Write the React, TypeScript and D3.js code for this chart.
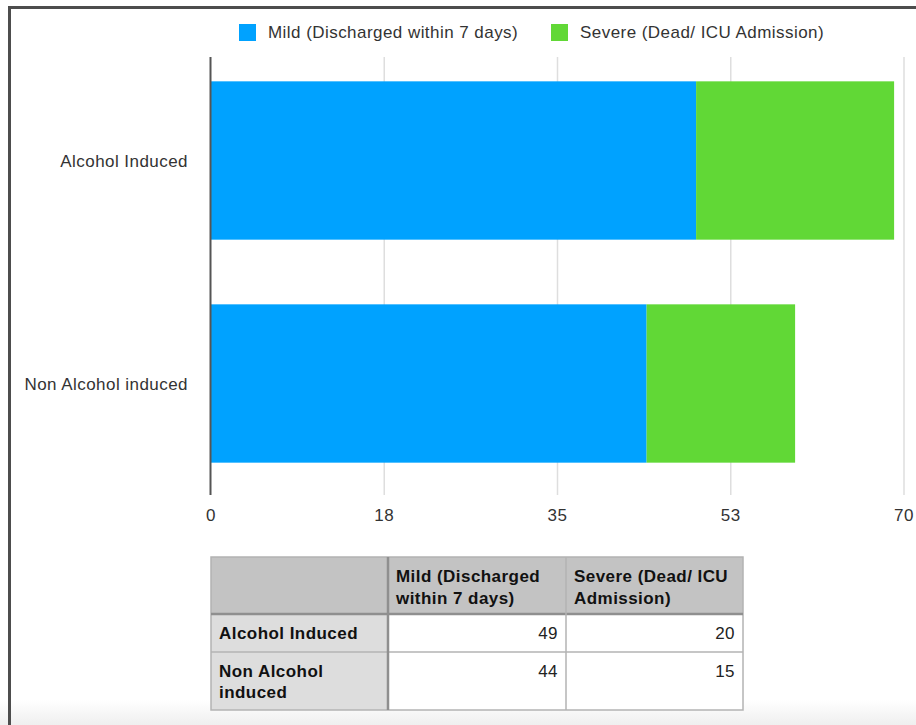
import React from "react";
import * as d3 from "d3";

// Data
const categories = ["Alcohol Induced", "Non Alcohol induced"];
const seriesKeys = ["mild", "severe"];
const seriesNames = ["Mild (Discharged within 7 days)", "Severe (Dead/ ICU Admission)"];
const mildValues = [49, 44];
const severeValues = [20, 15];
const seriesColors = ["#00A2FF", "#61D836"];
const tickValues = [0, 17.5, 35, 52.5, 70];
const tickLabels = ["0", "18", "35", "53", "70"];
const tableHeaderLines = [
  ["Mild (Discharged", "within 7 days)"],
  ["Severe (Dead/ ICU", "Admission)"],
];
const tableRowLabelLines = [["Alcohol Induced"], ["Non Alcohol", "induced"]];

const W = 916;
const H = 725;
const FONT = "'Liberation Sans', Arial, Helvetica, sans-serif";

export default function App() {
  const rows = categories.map((c, i) => ({ cat: c, mild: mildValues[i], severe: severeValues[i] }));
  const stacked = d3.stack<any>().keys(seriesKeys)(rows);

  const x = d3.scaleLinear().domain([0, 70]).range([211, 904]);
  const y = d3
    .scaleBand<string>()
    .domain(categories)
    .range([49, 495])
    .paddingInner(0.29)
    .paddingOuter(0.145);

  const plotTop = 57;
  const plotBottom = 495;

  // Table geometry
  const colX = [211, 388, 566, 743];
  const rowY = [557, 614, 652, 710];
  const lineH = 21;

  const txt = { fontFamily: FONT, fontSize: 17, letterSpacing: 0.45 } as const;

  return (
    <svg
      width={W}
      height={H}
      style={{ position: "absolute", left: 0, top: 0, display: "block", background: "#fff" }}
    >
      <defs>
        <linearGradient id="pageFade" x1="0" y1="0" x2="0" y2="1">
          <stop offset="0" stopColor="#ffffff" />
          <stop offset="1" stopColor="#efefef" />
        </linearGradient>
      </defs>
      <rect x={0} y={0} width={W} height={H} fill="#fff" />
      <rect x={0} y={700} width={W} height={25} fill="url(#pageFade)" />

      {/* frame */}
      <line x1={9.5} y1={7.5} x2={W} y2={7.5} stroke="#4d4d4d" strokeWidth={3} />
      <line x1={9.5} y1={6} x2={9.5} y2={H} stroke="#4d4d4d" strokeWidth={3} />

      {/* legend */}
      {seriesNames.map((name, i) => {
        const lx = [239, 551][i];
        return (
          <g key={name}>
            <rect x={lx} y={24} width={17} height={17} fill={seriesColors[i]} />
            <text x={lx + 29} y={38} fill="#333" {...txt}>
              {name}
            </text>
          </g>
        );
      })}

      {/* gridlines */}
      {tickValues.slice(1).map((t) => (
        <line key={t} x1={x(t)} x2={x(t)} y1={plotTop} y2={plotBottom} stroke="#dedede" strokeWidth={1.5} />
      ))}

      {/* bars */}
      {stacked.map((layer, si) =>
        layer.map((d, i) => (
          <rect
            key={`${si}-${i}`}
            x={x(d[0])}
            y={y(categories[i])}
            width={x(d[1]) - x(d[0])}
            height={y.bandwidth()}
            fill={seriesColors[si]}
          />
        ))
      )}

      {/* axis line */}
      <line x1={210.5} x2={210.5} y1={plotTop} y2={plotBottom} stroke="#555" strokeWidth={2} />

      {/* x tick labels */}
      {tickValues.map((t, i) => (
        <text key={t} x={x(t)} y={521} textAnchor="middle" fill="#333" {...txt}>
          {tickLabels[i]}
        </text>
      ))}

      {/* category labels */}
      {categories.map((c) => (
        <text
          key={c}
          x={188}
          y={(y(c) as number) + y.bandwidth() / 2 + 6}
          textAnchor="end"
          fill="#333"
          {...txt}
        >
          {c}
        </text>
      ))}

      {/* data table */}
      <g>
        <rect x={colX[0]} y={rowY[0]} width={colX[3] - colX[0]} height={rowY[1] - rowY[0]} fill="#c3c3c3" />
        <rect x={colX[0]} y={rowY[1]} width={colX[1] - colX[0]} height={rowY[3] - rowY[1]} fill="#dddddd" />
        <rect x={colX[1]} y={rowY[1]} width={colX[3] - colX[1]} height={rowY[3] - rowY[1]} fill="#ffffff" />

        {/* grid */}
        <rect
          x={colX[0]}
          y={rowY[0]}
          width={colX[3] - colX[0]}
          height={rowY[3] - rowY[0]}
          fill="none"
          stroke="#b3b3b3"
          strokeWidth={1.5}
        />
        <line x1={colX[0]} x2={colX[3]} y1={rowY[1]} y2={rowY[1]} stroke="#8f8f8f" strokeWidth={2.5} />
        <line x1={colX[0]} x2={colX[3]} y1={rowY[2]} y2={rowY[2]} stroke="#b3b3b3" strokeWidth={1.5} />
        <line x1={colX[1]} x2={colX[1]} y1={rowY[0]} y2={rowY[3]} stroke="#8f8f8f" strokeWidth={2.5} />
        <line x1={colX[2]} x2={colX[2]} y1={rowY[0]} y2={rowY[3]} stroke="#b3b3b3" strokeWidth={1.5} />

        {/* header text */}
        {tableHeaderLines.map((lines, ci) =>
          lines.map((ln, li) => (
            <text
              key={`h-${ci}-${li}`}
              x={colX[ci + 1] + 8}
              y={582 + li * 22}
              fill="#111"
              fontWeight="bold"
              {...txt}
            >
              {ln}
            </text>
          ))
        )}

        {/* row header text */}
        {tableRowLabelLines.map((lines, ri) =>
          lines.map((ln, li) => (
            <text
              key={`r-${ri}-${li}`}
              x={colX[0] + 8}
              y={rowY[ri + 1] + 25 + li * lineH}
              fill="#111"
              fontWeight="bold"
              {...txt}
            >
              {ln}
            </text>
          ))
        )}

        {/* values */}
        {categories.map((c, ri) =>
          [mildValues[ri], severeValues[ri]].map((v, ci) => (
            <text
              key={`v-${ri}-${ci}`}
              x={colX[ci + 2] - 8}
              y={rowY[ri + 1] + 25}
              textAnchor="end"
              fill="#222"
              {...txt}
            >
              {v}
            </text>
          ))
        )}
      </g>
    </svg>
  );
}
